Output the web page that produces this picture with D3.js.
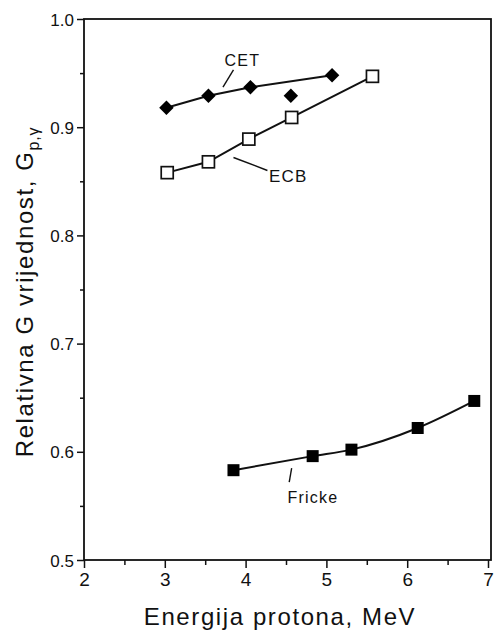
<!DOCTYPE html>
<html>
<head>
<meta charset="utf-8">
<script src="https://cdn.jsdelivr.net/npm/d3@7"></script>
<style>
  body { margin: 0; background: #fff; }
  svg { display: block; }
  text { font-family: "Liberation Sans", Arial, sans-serif; fill: #111; }
</style>
</head>
<body>
<svg id="chart" width="494" height="633"></svg>
<script>
// data
var cetX = [3.02, 3.54, 4.06, 5.07],
	cetY = [0.918, 0.929, 0.937, 0.948],
	cetOddX = [4.56],
	cetOddY = [0.929],
	ecbX = [3.03, 3.54, 4.04, 4.57, 5.57],
	ecbY = [0.858, 0.868, 0.889, 0.909, 0.947],
	frickeX = [3.85, 4.83, 5.31, 6.13, 6.83],
	frickeY = [0.583, 0.596, 0.602, 0.622, 0.647];

var xTicks = [2, 3, 4, 5, 6, 7],
	yTicks = [0.5, 0.6, 0.7, 0.8, 0.9, 1.0],
	xMinor = [2.5, 3.5, 4.5, 5.5, 6.5],
	yMinor = [0.55, 0.65, 0.75, 0.85, 0.95];

// series labels: text, anchor point and leader line ends (data units)
var labelNames = ["CET", "ECB", "Fricke"],
	labelAt = [[3.96, 0.957], [4.29, 0.849], [4.52, 0.553]],
	labelAnchor = ["middle", "start", "start"],
	labelSize = [16, 17, 16],
	leaders = [[[3.72, 0.937], [3.85, 0.953]],
	           [[3.85, 0.872], [4.27, 0.860]],
	           [[4.57, 0.585], [4.54, 0.572]]];

var svg = d3.select("#chart"),
	padL = 84, padR = 488, padT = 19, padB = 560;

var x = d3.scaleLinear().domain([2, 7]).range([padL, padR]),
	y = d3.scaleLinear().domain([0.5, 1.0]).range([padB, padT]);

var zip = function(a, b) { return a.map(function(v, i) { return [v, b[i]]; }); };

// frame
svg.append("rect")
	.attr("x", padL).attr("y", padT)
	.attr("width", padR - padL + 3).attr("height", padB - padT)
	.attr("fill", "none").attr("stroke", "#111").attr("stroke-width", 1.8);

// y axis, ticks outward
var yAxis = svg.append("g").attr("transform", "translate(" + padL + ",0)");
yAxis.append("g").call(d3.axisLeft(y).tickValues(yTicks).tickSize(7).tickPadding(3)
	.tickFormat(d3.format(".1f")));
yAxis.append("g").call(d3.axisLeft(y).tickValues(yMinor).tickSize(4).tickFormat(""));
yAxis.selectAll(".domain").remove();
yAxis.selectAll("line").attr("stroke", "#111").attr("stroke-width", 1.5);
yAxis.selectAll("text").style("font-size", "17px").attr("dy", "0.36em").attr("fill", "#111");

// x axis, ticks outward
var xAxis = svg.append("g").attr("transform", "translate(0," + padB + ")");
xAxis.append("g").call(d3.axisBottom(x).tickValues(xTicks).tickSize(8).tickPadding(5)
	.tickFormat(d3.format("d")));
xAxis.append("g").call(d3.axisBottom(x).tickValues(xMinor).tickSize(5).tickFormat(""));
xAxis.selectAll(".domain").remove();
xAxis.selectAll("line").attr("stroke", "#111").attr("stroke-width", 1.5);
xAxis.selectAll("text").style("font-size", "19px").attr("fill", "#111");

// axis titles
svg.append("text")
	.attr("x", 280).attr("y", 625)
	.attr("text-anchor", "middle")
	.style("font-size", "24px").style("letter-spacing", "1.6px")
	.text("Energija protona, MeV");

var yt = svg.append("text")
	.attr("transform", "translate(33,292) rotate(-90)")
	.attr("text-anchor", "middle")
	.style("font-size", "24px").style("letter-spacing", "1.6px");
yt.append("tspan").text("Relativna G vrijednost, G");
yt.append("tspan").attr("dy", 6).style("font-size", "16px").style("letter-spacing", "0.8px").text("p,γ");

// lines
var line = d3.line().x(function(d) { return x(d[0]); }).y(function(d) { return y(d[1]); });

svg.append("path").datum(zip(cetX, cetY))
	.attr("d", line).attr("fill", "none").attr("stroke", "#111").attr("stroke-width", 2);
svg.append("path").datum(zip(ecbX, ecbY))
	.attr("d", line).attr("fill", "none").attr("stroke", "#111").attr("stroke-width", 2);
svg.append("path").datum(zip(frickeX, frickeY))
	.attr("d", line.curve(d3.curveMonotoneX)).attr("fill", "none").attr("stroke", "#111").attr("stroke-width", 2);

// markers
var diamond = d3.symbol().type(d3.symbolSquare).size(105);
svg.selectAll("path.cet").data(zip(cetX, cetY).concat(zip(cetOddX, cetOddY)))
	.enter().append("path").attr("class", "cet")
	.attr("d", diamond)
	.attr("transform", function(d) { return "translate(" + x(d[0]) + "," + y(d[1]) + ") rotate(45)"; })
	.attr("fill", "#000");

svg.selectAll("rect.ecb").data(zip(ecbX, ecbY))
	.enter().append("rect").attr("class", "ecb")
	.attr("x", function(d) { return x(d[0]) - 6; })
	.attr("y", function(d) { return y(d[1]) - 6; })
	.attr("width", 12).attr("height", 12)
	.attr("fill", "#fff").attr("stroke", "#111").attr("stroke-width", 1.7);

svg.selectAll("rect.fricke").data(zip(frickeX, frickeY))
	.enter().append("rect").attr("class", "fricke")
	.attr("x", function(d) { return x(d[0]) - 6; })
	.attr("y", function(d) { return y(d[1]) - 6; })
	.attr("width", 12).attr("height", 12)
	.attr("fill", "#000");

// series labels with leader lines
svg.selectAll("line.leader").data(leaders)
	.enter().append("line").attr("class", "leader")
	.attr("x1", function(d) { return x(d[0][0]); })
	.attr("y1", function(d) { return y(d[0][1]); })
	.attr("x2", function(d) { return x(d[1][0]); })
	.attr("y2", function(d) { return y(d[1][1]); })
	.attr("stroke", "#111").attr("stroke-width", 1.4);

svg.selectAll("text.lbl").data(labelNames)
	.enter().append("text").attr("class", "lbl")
	.attr("x", function(d, i) { return x(labelAt[i][0]); })
	.attr("y", function(d, i) { return y(labelAt[i][1]); })
	.attr("text-anchor", function(d, i) { return labelAnchor[i]; })
	.style("font-size", function(d, i) { return labelSize[i] + "px"; })
	.style("letter-spacing", "1.2px")
	.text(function(d) { return d; });
</script>
</body>
</html>
